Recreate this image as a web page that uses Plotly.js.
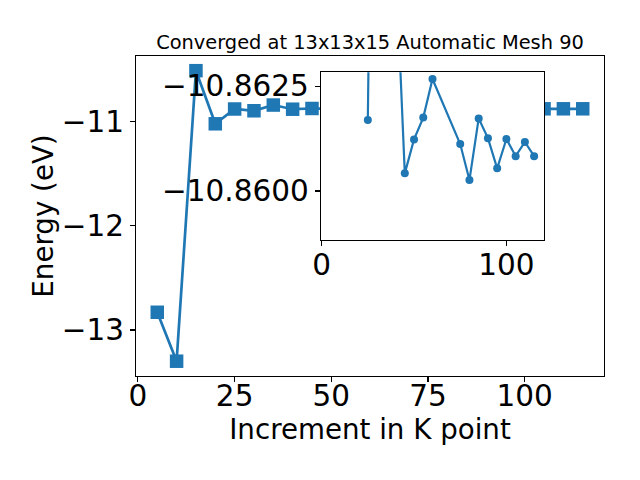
<!DOCTYPE html>
<html>
<head>
<meta charset="utf-8">
<script src="https://cdn.plot.ly/plotly-3.0.1.min.js"></script>
<style>html,body{margin:0;padding:0;background:#fff;}#chart{width:640px;height:480px;}</style>
</head>
<body>
<div id="chart"></div>
<script>
// K-point increments and total energies (eV), main panel
const kpoints = [5, 10, 15, 20, 25, 30, 35, 40, 45, 50, 55, 60, 75, 80, 85, 90, 95, 100, 105, 110, 115];
const energyMain = [-12.83, -13.30, -10.51, -11.02, -10.878, -10.895, -10.840, -10.880, -10.873,
                    -10.874, -10.875, -10.876, -10.874, -10.873, -10.875, -10.874, -10.873, -10.874,
                    -10.876, -10.876, -10.876];

// Inset (zoomed) series
const insetK = [25, 30, 35, 40, 45, 50, 55, 60, 75, 80, 85, 90, 95, 100, 105, 110, 115];
const insetEnergy = [-10.86169, -10.8800, -10.8720, -10.86558, -10.86042, -10.86123, -10.86175, -10.86267,
                     -10.86112, -10.86026, -10.86173, -10.86126, -10.86054, -10.86124, -10.86083, -10.86117, -10.86083];

const mainXTicks = [0, 25, 50, 75, 100];
const mainYTicks = [-13, -12, -11];
const insetXTicks = [0, 100];
const insetYTicks = [-10.8625, -10.8600];

const titleText = 'Converged at 13x13x15 Automatic Mesh 90';
const xLabel = 'Increment in K point';
const yLabel = 'Energy (eV)';

const blue = '#1f77b4';
const font = 'DejaVu Sans, sans-serif';
const tickFont = {family: font, size: 29.5, color: '#000'};

const traces = [
  {
    x: kpoints, y: energyMain, type: 'scatter', mode: 'lines+markers',
    line: {color: blue, width: 2.7},
    marker: {symbol: 'square', size: 13.5, color: blue},
    xaxis: 'x', yaxis: 'y', hoverinfo: 'skip'
  },
  {
    x: insetK, y: insetEnergy, type: 'scatter', mode: 'lines+markers',
    line: {color: blue, width: 2.2},
    marker: {symbol: 'circle', size: 8, color: blue},
    xaxis: 'x2', yaxis: 'y2', hoverinfo: 'skip'
  }
];

const axisCommon = {
  showgrid: false, zeroline: false, showline: true, mirror: true,
  linecolor: '#000', linewidth: 1.1, ticks: 'outside', ticklen: 5, tickwidth: 1.1, tickcolor: '#000',
  tickfont: tickFont
};

const layout = {
  width: 640, height: 480,
  margin: {l: 136, r: 36, t: 56, b: 104, pad: 0},
  paper_bgcolor: '#fff', plot_bgcolor: '#fff',
  showlegend: false,
  title: {text: titleText, font: {family: font, size: 19.4, color: '#000'},
          x: 0.5, xref: 'paper', xanchor: 'center', y: 1 - 42/480, yref: 'container', yanchor: 'middle'},
  xaxis: Object.assign({}, axisCommon, {
    domain: [0, 1], range: [-0.5, 120.5], tickvals: mainXTicks, ticklabelstandoff: -12,
    title: {text: xLabel, font: {family: font, size: 27.7, color: '#000'}, standoff: 8}
  }),
  yaxis: Object.assign({}, axisCommon, {
    domain: [0, 1], range: [-13.442, -10.369], tickvals: mainYTicks,
    title: {text: yLabel, font: {family: font, size: 27.7, color: '#000'}, standoff: 0}
  }),
  xaxis2: Object.assign({}, axisCommon, {
    domain: [0.3947, 0.8724], range: [-0.5, 120.5], tickvals: insetXTicks, anchor: 'y2', ticklabelstandoff: -7
  }),
  yaxis2: Object.assign({}, axisCommon, {
    domain: [0.425, 0.949], range: [-10.85883, -10.86283], tickvals: insetYTicks,
    tickformat: '.4f', anchor: 'x2'
  })
};

Plotly.newPlot('chart', traces, layout, {staticPlot: true, displayModeBar: false});
</script>
</body>
</html>
